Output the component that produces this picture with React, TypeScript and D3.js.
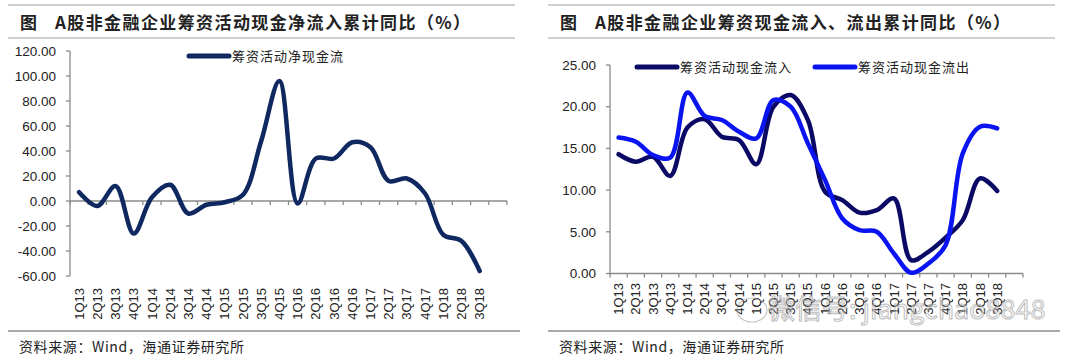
import React from "react";
import * as d3 from "d3";

const quarters = [
  "1Q13", "2Q13", "3Q13", "4Q13", "1Q14", "2Q14", "3Q14", "4Q14",
  "1Q15", "2Q15", "3Q15", "4Q15", "1Q16", "2Q16", "3Q16", "4Q16",
  "1Q17", "2Q17", "3Q17", "4Q17", "1Q18", "2Q18", "3Q18",
];

// left chart: 筹资活动净现金流
const netFlow = [
  7, -4, 12, -26, 3, 13, -10, -3, -1, 5, 48, 96,
  -2, 34, 34, 47, 43, 16, 18, 6, -27, -32, -56,
];
const leftTicks = [-60, -40, -20, 0, 20, 40, 60, 80, 100, 120];

// right chart: 流入 / 流出
const inflow = [
  14.3, 13.4, 14.0, 11.7, 17.5, 18.5, 16.4, 16.0, 13.1, 20.0, 21.4, 18.4,
  9.8, 8.8, 7.3, 7.6, 9.0, 1.6, 2.6, 4.3, 6.4, 11.4, 9.9,
];
const outflow = [
  16.3, 15.8, 14.2, 13.9, 21.7, 18.9, 18.4, 17.0, 16.2, 20.8, 20.0, 15.6,
  11.2, 6.6, 5.2, 5.0, 2.4, 0.1, 1.2, 3.4, 14.4, 17.6, 17.4,
];
const rightTicks = [0, 5, 10, 15, 20, 25];

const leftTitle = "A股非金融企业筹资活动现金净流入累计同比（%）";
const rightTitle = "A股非金融企业筹资现金流入、流出累计同比（%）";
const source = "资料来源：Wind，海通证券研究所";

const NUM_FONT = "'Liberation Sans', Arial, sans-serif";
const CJK_FONT = "'Noto Sans CJK SC', sans-serif";
const AXIS = "#8a8a8a";

type Series = { name: string; values: number[]; color: string };

function Panel(props: {
  ox: number;
  title: string;
  x0: number;
  x1: number;
  yTop: number;
  yBot: number;
  domain: [number, number];
  ticks: number[];
  labelY: number;
  series: Series[];
  legendX: number[];
  legendY: number;
}) {
  const { ox, title, x0, x1, yTop, yBot, domain, ticks, labelY, series, legendX, legendY } = props;
  const x = d3.scaleBand<number>().domain(d3.range(24)).range([x0, x1]).padding(0);
  const y = d3.scaleLinear().domain(domain).range([yBot, yTop]);
  const axisY = y(Math.max(domain[0], 0));
  const line = d3
    .line<number>()
    .x((_, i) => x(i)! + x.bandwidth() / 2)
    .y((d) => y(d))
    .curve(d3.curveCatmullRom.alpha(0.5));
  const bounds = d3.range(25).map((i) => x0 + i * x.bandwidth());

  return (
    <g>
      <line x1={ox + 8} x2={ox + 515} y1={5} y2={5} stroke="#a0a0a0" strokeWidth={1.2} />
      <line x1={ox + 8} x2={ox + 515} y1={38} y2={38} stroke="#a0a0a0" strokeWidth={1.2} />
      <text x={ox + 20} y={29} fontFamily={CJK_FONT} fontSize={17} fontWeight="bold" fill="#222">图</text>
      <text x={ox + 55} y={29} fontFamily={CJK_FONT} fontSize={17} fontWeight="bold" fill="#222" letterSpacing={1.4}>
        {title}
      </text>

      {/* y axis */}
      <line x1={x0} x2={x0} y1={yTop} y2={yBot} stroke={AXIS} strokeWidth={1.3} />
      {ticks.map((t) => (
        <g key={t}>
          <line x1={x0 - 4} x2={x0} y1={y(t)} y2={y(t)} stroke={AXIS} strokeWidth={1.3} />
          <text x={x0 - 14} y={y(t)} dy="0.35em" textAnchor="end" fontFamily={NUM_FONT} fontSize={13.5} fill="#222">
            {t.toFixed(2)}
          </text>
        </g>
      ))}

      {/* x axis */}
      <line x1={x0} x2={x1} y1={axisY} y2={axisY} stroke={AXIS} strokeWidth={1.3} />
      {bounds.map((b, i) => (
        <line key={i} x1={b} x2={b} y1={axisY} y2={axisY + 4} stroke={AXIS} strokeWidth={1.3} />
      ))}
      {quarters.map((q, i) => {
        const cx = x(i)! + x.bandwidth() / 2;
        return (
          <text
            key={q}
            transform={`translate(${cx},${labelY}) rotate(-90)`}
            dy="0.35em"
            textAnchor="end"
            fontFamily={NUM_FONT}
            fontSize={13}
            fill="#222"
          >
            {q}
          </text>
        );
      })}

      {series.map((s) => (
        <path key={s.name} d={line(s.values) ?? ""} fill="none" stroke={s.color} strokeWidth={4.5} strokeLinejoin="round" strokeLinecap="round" />
      ))}

      {series.map((s, i) => (
        <g key={s.name}>
          <line x1={legendX[i]} x2={legendX[i] + 40} y1={legendY} y2={legendY} stroke={s.color} strokeWidth={5} strokeLinecap="round" />
          <text x={legendX[i] + 43} y={legendY} dy="0.36em" fontFamily={CJK_FONT} fontSize={13} letterSpacing={1} fill="#222">
            {s.name}
          </text>
        </g>
      ))}

      <line x1={ox + 8} x2={ox + 520} y1={331} y2={331} stroke="#555" strokeWidth={1.2} />
      <text x={ox + 19} y={347} dy="0.35em" fontFamily={CJK_FONT} fontSize={14} letterSpacing={0.6} fill="#222">
        {source}
      </text>
    </g>
  );
}

export default function App() {
  return (
    <svg
      width={1080}
      height={359}
      style={{ position: "absolute", left: 0, top: 0, background: "#fff" }}
    >
      <rect width={1080} height={359} fill="#fff" />
      <Panel
        ox={0}
        title={leftTitle}
        x0={70}
        x1={507}
        yTop={51}
        yBot={276}
        domain={[-60, 120]}
        ticks={leftTicks}
        labelY={288}
        series={[{ name: "筹资活动净现金流", values: netFlow, color: "#0f2960" }]}
        legendX={[189]}
        legendY={56}
      />
      <Panel
        ox={540}
        title={rightTitle}
        x0={610}
        x1={1023}
        yTop={65}
        yBot={273.5}
        domain={[0, 25]}
        ticks={rightTicks}
        labelY={283}
        series={[
          { name: "筹资活动现金流入", values: inflow, color: "#0a0a66" },
          { name: "筹资活动现金流出", values: outflow, color: "#0a14f0" },
        ]}
        legendX={[637, 815]}
        legendY={67}
      />
      {/* watermark */}
      <g opacity={0.55}>
        <ellipse cx={752} cy={310} rx={15} ry={12} fill="none" stroke="#999" strokeWidth={1.2} />
        <text x={768} y={310} dy="0.35em" fontFamily={CJK_FONT} fontSize={27} fill="#fff" stroke="#888" strokeWidth={1}>
          微信号: jiangchao8848
        </text>
      </g>
    </svg>
  );
}
